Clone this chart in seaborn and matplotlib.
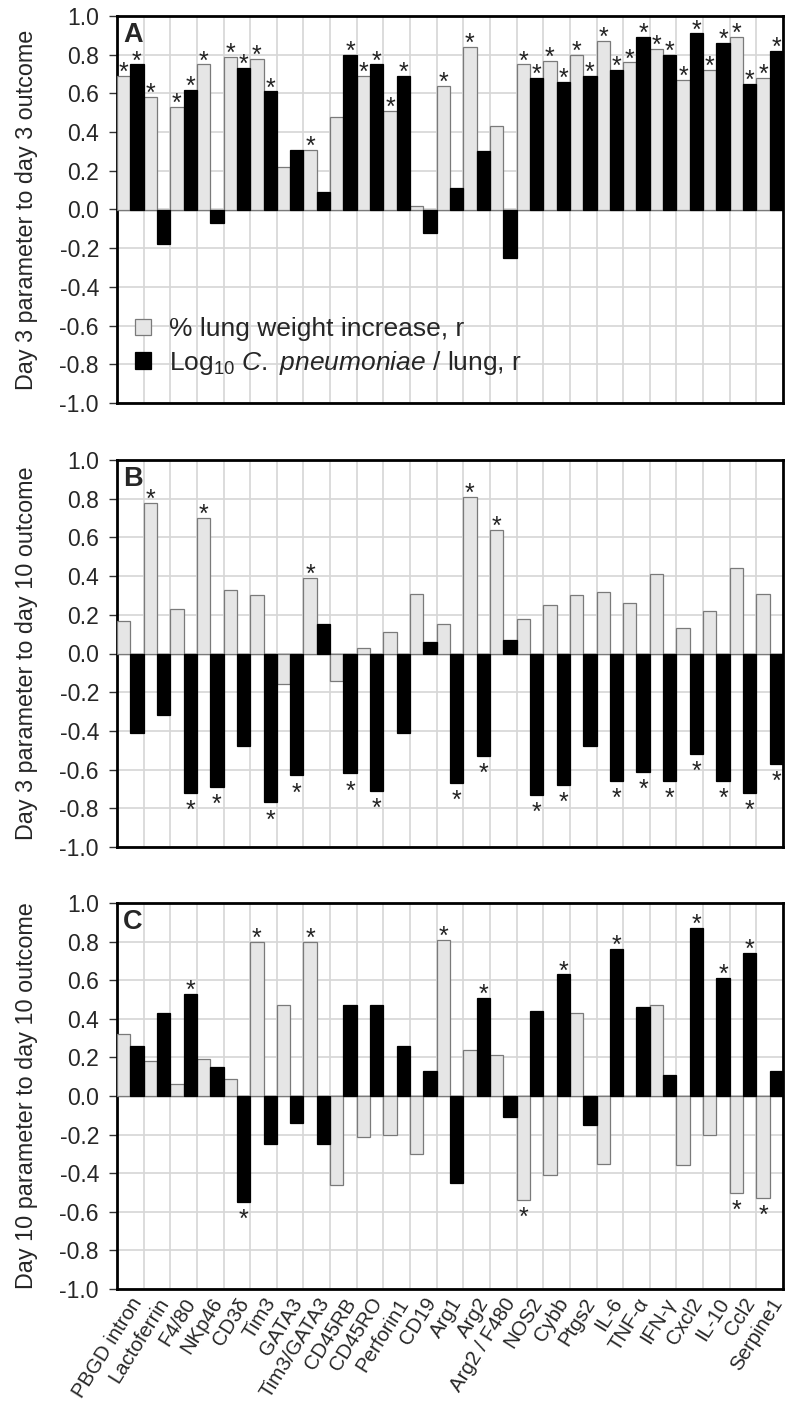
import numpy as np
import pandas as pd
import matplotlib
matplotlib.use("Agg")
import matplotlib.pyplot as plt
from matplotlib.ticker import MultipleLocator, FixedLocator, FormatStrFormatter
from matplotlib.patches import Patch
import seaborn as sns

# ---- data -----------------------------------------------------------------
markers = ["PBGD intron", "Lactoferrin", "F4/80", "NKp46", "CD3δ", "Tim3", "GATA3",
           "Tim3/GATA3", "CD45RB", "CD45RO", "Perforin1", "CD19", "Arg1", "Arg2",
           "Arg2 / F480", "NOS2", "Cybb", "Ptgs2", "IL-6", "TNF-α", "IFN-γ", "Cxcl2",
           "IL-10", "Ccl2", "Serpine1"]

# Panel A: day 3 parameter vs day 3 outcome
a_weight = [0.69, 0.58, 0.53, 0.75, 0.79, 0.78, 0.22, 0.31, 0.48, 0.69, 0.51, 0.02, 0.64,
            0.84, 0.43, 0.75, 0.77, 0.80, 0.87, 0.76, 0.83, 0.67, 0.72, 0.89, 0.68]
a_load = [0.75, -0.18, 0.62, -0.07, 0.73, 0.61, 0.31, 0.09, 0.80, 0.75, 0.69, -0.12, 0.11,
          0.30, -0.25, 0.68, 0.66, 0.69, 0.72, 0.89, 0.80, 0.91, 0.86, 0.65, 0.82]
a_weight_sig = [1, 1, 1, 1, 1, 1, 0, 1, 0, 1, 1, 0, 1, 1, 0, 1, 1, 1, 1, 1, 1, 1, 1, 1, 1]
a_load_sig = [1, 0, 1, 0, 1, 1, 0, 0, 1, 1, 1, 0, 0, 0, 0, 1, 1, 1, 1, 1, 1, 1, 1, 1, 1]

# Panel B: day 3 parameter vs day 10 outcome
b_weight = [0.17, 0.78, 0.23, 0.70, 0.33, 0.30, -0.16, 0.39, -0.14, 0.03, 0.11, 0.31, 0.15,
            0.81, 0.64, 0.18, 0.25, 0.30, 0.32, 0.26, 0.41, 0.13, 0.22, 0.44, 0.31]
b_load = [-0.41, -0.32, -0.72, -0.69, -0.48, -0.77, -0.63, 0.15, -0.62, -0.71, -0.41, 0.06,
          -0.67, -0.53, 0.07, -0.73, -0.68, -0.48, -0.66, -0.61, -0.66, -0.52, -0.66, -0.72,
          -0.57]
b_weight_sig = [0, 1, 0, 1, 0, 0, 0, 1, 0, 0, 0, 0, 0, 1, 1, 0, 0, 0, 0, 0, 0, 0, 0, 0, 0]
b_load_sig = [0, 0, 1, 1, 0, 1, 1, 0, 1, 1, 0, 0, 1, 1, 0, 1, 1, 0, 1, 1, 1, 1, 1, 1, 1]

# Panel C: day 10 parameter vs day 10 outcome
c_weight = [0.32, 0.18, 0.06, 0.19, 0.09, 0.80, 0.47, 0.80, -0.46, -0.21, -0.20, -0.30, 0.81,
            0.24, 0.21, -0.54, -0.41, 0.43, -0.35, 0.00, 0.47, -0.36, -0.20, -0.50, -0.53]
c_load = [0.26, 0.43, 0.53, 0.15, -0.55, -0.25, -0.14, -0.25, 0.47, 0.47, 0.26, 0.13, -0.45,
          0.51, -0.11, 0.44, 0.63, -0.15, 0.76, 0.46, 0.11, 0.87, 0.61, 0.74, 0.13]
c_weight_sig = [0, 0, 0, 0, 0, 1, 0, 1, 0, 0, 0, 0, 1, 0, 0, 1, 0, 0, 0, 0, 0, 0, 0, 1, 1]
c_load_sig = [0, 0, 1, 0, 1, 0, 0, 0, 0, 0, 0, 0, 0, 1, 0, 0, 1, 0, 1, 0, 0, 1, 1, 1, 0]

panel_letters = ["A", "B", "C"]
y_titles = ["Day 3 parameter to day 3 outcome",
            "Day 3 parameter to day 10 outcome",
            "Day 10 parameter to day 10 outcome"]
series_names = ["% lung weight increase, r",
                r"Log$_{10}$ $\mathit{C.}$ $\mathit{pneumoniae}$ / lung, r"]

# ---- style ----------------------------------------------------------------
sns.set_theme(style="white")
plt.rcParams["font.family"] = ["Liberation Sans", "DejaVu Sans"]
plt.rcParams["mathtext.fontset"] = "custom"
plt.rcParams["mathtext.rm"] = "Liberation Sans"
plt.rcParams["mathtext.it"] = "Liberation Sans:italic"

LIGHT = "#e6e6e6"
LIGHT_EDGE = "#7a7a7a"
DARK = "#000000"
GRID = "#d6d6d6"

W, H = 785, 1405
fig = plt.figure(figsize=(W / 100, H / 100), dpi=100)

left, right = 117, 783
panels_px = [(16, 403), (460, 847), (903, 1289)]

panel_data = [
    (a_weight, a_load, a_weight_sig, a_load_sig),
    (b_weight, b_load, b_weight_sig, b_load_sig),
    (c_weight, c_load, c_weight_sig, c_load_sig),
]

for i, ((top, bot), (wv, lv, ws, ls)) in enumerate(zip(panels_px, panel_data)):
    ax = fig.add_axes([left / W, 1 - bot / H, (right - left) / W, (bot - top) / H])
    df = pd.DataFrame({
        "marker": markers * 2,
        "r": list(wv) + list(lv),
        "series": [series_names[0]] * len(markers) + [series_names[1]] * len(markers),
    })
    sns.barplot(data=df, x="marker", y="r", hue="series", hue_order=series_names,
                order=markers, palette=[LIGHT, DARK], width=1.0, gap=0,
                saturation=1, errorbar=None, ax=ax, legend=False, zorder=3)

    # bar edges
    for cont, ec in zip(ax.containers, [LIGHT_EDGE, DARK]):
        for p in cont:
            p.set_edgecolor(ec)
            p.set_linewidth(0.9)

    # significance asterisks
    for cont, vals, sig in zip(ax.containers, [wv, lv], [ws, ls]):
        for p, v, s in zip(cont, vals, sig):
            if not s:
                continue
            xc = p.get_x() + p.get_width() / 2
            off = -4 if v >= 0 else -25
            ax.annotate("*", xy=(xc, v), xytext=(0, off), textcoords="offset pixels",
                        ha="center", va="baseline", fontsize=18, color="#222222",
                        zorder=5, annotation_clip=False)

    ax.set_xlim(-0.5, len(markers) - 0.5)
    ax.set_ylim(-1.0, 1.0)
    ax.yaxis.set_major_locator(MultipleLocator(0.2))
    ax.yaxis.set_major_formatter(FormatStrFormatter("%.1f"))
    ax.xaxis.set_minor_locator(FixedLocator(np.arange(0.5, len(markers) - 0.5, 1)))
    ax.grid(True, axis="y", which="major", color=GRID, lw=1.2, zorder=0)
    ax.grid(True, axis="x", which="minor", color=GRID, lw=1.2, zorder=0)
    ax.grid(False, axis="x", which="major")
    ax.set_axisbelow(True)
    ax.axhline(0, color="#8c8c8c", lw=1.0, zorder=2)

    for sp in ax.spines.values():
        sp.set_visible(True)
        sp.set_color("black")
        sp.set_linewidth(2.0)

    ax.tick_params(axis="y", which="major", direction="out", length=6, width=1.0,
                   color="#333333", pad=7, labelsize=16.5, left=True)
    ax.tick_params(axis="x", which="both", length=0)
    ax.set_xlabel("")
    ax.set_ylabel(y_titles[i], fontsize=16.8)
    ax.yaxis.set_label_coords(-0.118, 0.5)

    if i == 2:
        ax.set_xticks(range(len(markers)))
        ax.set_xticklabels(markers, rotation=58, ha="right", rotation_mode="anchor",
                           fontsize=14.7)
        ax.tick_params(axis="x", pad=4)
    else:
        ax.set_xticklabels([])

    ax.text(0.009, 0.985, panel_letters[i], transform=ax.transAxes, ha="left", va="top",
            fontsize=19.5, fontweight="bold", zorder=6)

    if i == 0:
        handles = [Patch(facecolor=LIGHT, edgecolor=LIGHT_EDGE, lw=0.9),
                   Patch(facecolor=DARK, edgecolor=DARK, lw=0.9)]
        ax.legend(handles=handles, labels=series_names, loc="upper left",
                  bbox_to_anchor=(0.0, 0.27), frameon=False, fontsize=19,
                  handlelength=0.57, handleheight=0.57, handletextpad=0.7,
                  labelspacing=0.3, borderaxespad=0.3)

fig.savefig("out.png", dpi=100)
